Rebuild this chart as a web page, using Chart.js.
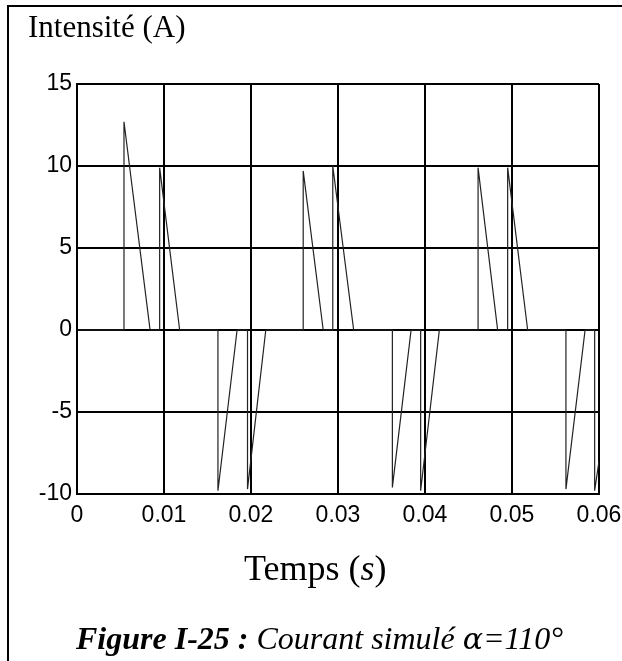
<!DOCTYPE html>
<html>
<head>
<meta charset="utf-8">
<script src="https://cdn.jsdelivr.net/npm/chart.js@4/dist/chart.umd.min.js"></script>
<style>
  body { margin: 0; background: #fff; }
  canvas { display: block; }
</style>
</head>
<body>
<canvas id="myChart" width="622" height="661"></canvas>
<script>
// simulated current (time in s, current in A)
const times = [0, 0.0054, 0.0054, 0.0084, 0.0095, 0.0095, 0.0118,
	0.0162, 0.0162, 0.0184, 0.0196, 0.0196, 0.0217,
	0.0260, 0.0260, 0.0283, 0.0294, 0.0294, 0.0318,
	0.03625, 0.03625, 0.0384, 0.0395, 0.0395, 0.04165,
	0.0461, 0.0461, 0.04835, 0.0495, 0.0495, 0.0518,
	0.0562, 0.0562, 0.0584, 0.0595, 0.0595, 0.0600];
const current = [0, 0, 12.7, 0, 0, 9.9, 0,
	0, -9.8, 0, 0, -9.7, 0,
	0, 9.7, 0, 0, 10.0, 0,
	0, -9.6, 0, 0, -9.8, 0,
	0, 9.9, 0, 0, 9.9, 0,
	0, -9.7, 0, 0, -9.8, -8.0];
const xTickLabels = ['0', '0.01', '0.02', '0.03', '0.04', '0.05', '0.06'];
const yTickLabels = ['-10', '-5', '0', '5', '10', '15'];

const points = times.map((t, i) => ({ x: t, y: current[i] }));

// frame and the texts around the plot
const decor = {
	id: 'decor',
	beforeDraw(chart) {
		const c = chart.ctx;
		c.save();
		c.fillStyle = '#fff';
		c.fillRect(0, 0, chart.width, chart.height);
		c.strokeStyle = '#000';
		c.lineWidth = 2;
		c.beginPath();
		c.moveTo(8, 661);
		c.lineTo(8, 6);
		c.lineTo(622, 6);
		c.stroke();
		c.restore();
	},
	afterDraw(chart) {
		const c = chart.ctx;
		c.save();
		c.fillStyle = '#000';
		c.textBaseline = 'alphabetic';
		c.font = '31px "Liberation Serif"';
		c.fillText('Intensité (A)', 28, 37);

		let x = 244;
		const put = (txt, font, y) => {
			c.font = font;
			c.fillText(txt, x, y);
			x += c.measureText(txt).width;
		};
		put('Temps (', '36px "Liberation Serif"', 580);
		put('s', 'italic 36px "Liberation Serif"', 580);
		put(')', '36px "Liberation Serif"', 580);

		x = 76;
		put('Figure I-25 :', 'italic bold 32px "Liberation Serif"', 649);
		put(' Courant simulé ', 'italic 32px "Liberation Serif"', 649);
		put('α', 'italic 30px "DejaVu Serif"', 649);
		put('=110°', 'italic 32px "Liberation Serif"', 649);
		c.restore();
	}
};

const ctx = document.getElementById('myChart').getContext('2d');
let myChart = new Chart(ctx, {
	type: 'line',
	data: {
		datasets: [
			{
				data: points,
				borderColor: '#222',
				borderWidth: 1.2,
				pointRadius: 0,
				tension: 0,
				fill: false
			}
		]
	},
	options: {
		responsive: false,
		animation: false,
		layout: { padding: { left: 0, top: 84, right: 23, bottom: 0 } },
		plugins: { legend: { display: false }, tooltip: { enabled: false } },
		scales: {
			x: {
				type: 'linear',
				min: 0,
				max: 0.06,
				ticks: {
					stepSize: 0.01,
					color: '#000',
					font: { family: '"Liberation Sans"', size: 23 },
					padding: 8,
					maxRotation: 0,
					callback: (v, i) => xTickLabels[i]
				},
				grid: { color: '#000', lineWidth: 2, drawTicks: false },
				border: { color: '#000', width: 2 },
				afterFit: s => { s.height = 167; s.paddingRight = 0; s.paddingLeft = 0; }
			},
			y: {
				min: -10,
				max: 15,
				ticks: {
					stepSize: 5,
					color: '#000',
					font: { family: '"Liberation Sans"', size: 23 },
					padding: 5,
					callback: (v, i) => yTickLabels[i]
				},
				grid: { color: '#000', lineWidth: 2, drawTicks: false },
				border: { color: '#000', width: 2 },
				afterFit: s => { s.width = 77; s.paddingTop = 0; s.paddingBottom = 0; }
			}
		}
	},
	plugins: [decor]
});
</script>
</body>
</html>
